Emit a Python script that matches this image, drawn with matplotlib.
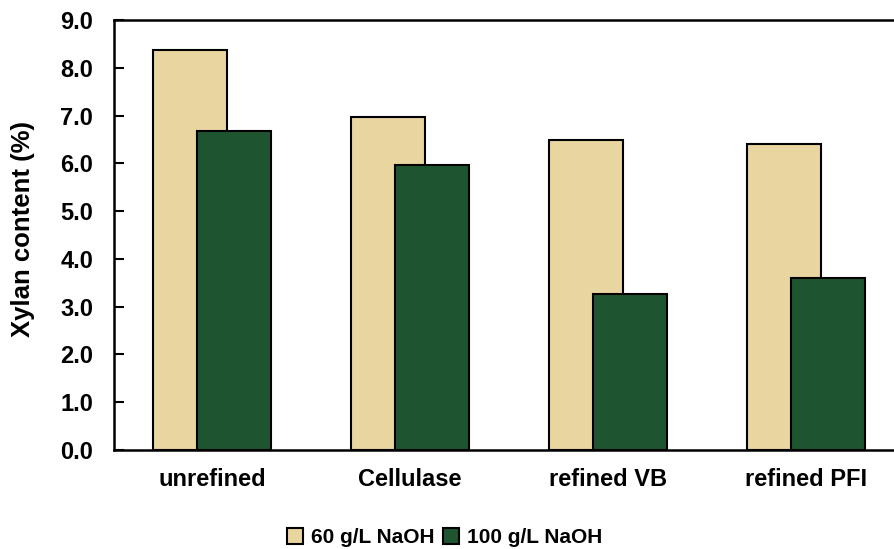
import matplotlib
matplotlib.use("Agg")
import matplotlib.pyplot as plt
import numpy as np

categories = ["unrefined", "Cellulase", "refined VB", "refined PFI"]
naoh_60 = [8.37, 6.97, 6.48, 6.40]
naoh_100 = [6.68, 5.96, 3.27, 3.59]
series_names = ["60 g/L NaOH", "100 g/L NaOH"]
y_ticks = [0.0, 1.0, 2.0, 3.0, 4.0, 5.0, 6.0, 7.0, 8.0, 9.0]

plt.rcParams["font.family"] = ["Liberation Sans", "DejaVu Sans"]
plt.rcParams["font.weight"] = "bold"

fig = plt.figure(figsize=(8.94, 5.49), dpi=100)
ax = fig.add_axes([0.1275, 0.1803, 0.8725, 0.7833])

x = np.arange(len(categories))
width = 0.374
offset = 0.111
ax.bar(x - offset, naoh_60, width, color="#E9D5A0", edgecolor="black",
       linewidth=1.5, label=series_names[0], zorder=2)
ax.bar(x + offset, naoh_100, width, color="#1E5530", edgecolor="black",
       linewidth=1.5, label=series_names[1], zorder=3)

ax.set_xlim(-0.495, 3.444)
ax.set_ylim(0, 9.0)
ax.set_yticks(y_ticks)
ax.set_yticklabels([f"{v:.1f}" for v in y_ticks], fontsize=17, fontweight="bold")
ax.set_xticks(x)
ax.set_xticklabels(categories, fontsize=17, fontweight="bold")
ax.tick_params(axis="y", direction="in", length=7, width=1.5, pad=15)
ax.tick_params(axis="x", length=0, pad=13)

for side in ["left", "top", "bottom"]:
    ax.spines[side].set_linewidth(1.8)
ax.spines["right"].set_visible(False)

ax.set_ylabel("Xylan content (%)", fontsize=18.5, fontweight="bold")
ax.yaxis.set_label_coords(-0.101, 0.513)

fig.legend(loc="center", bbox_to_anchor=(0.497, 0.021), ncol=2, frameon=False,
           handlelength=0.8, handleheight=0.8, handletextpad=0.35,
           columnspacing=0.4, prop={"weight": "bold", "size": 15})

fig.savefig("out.png", dpi=100)
